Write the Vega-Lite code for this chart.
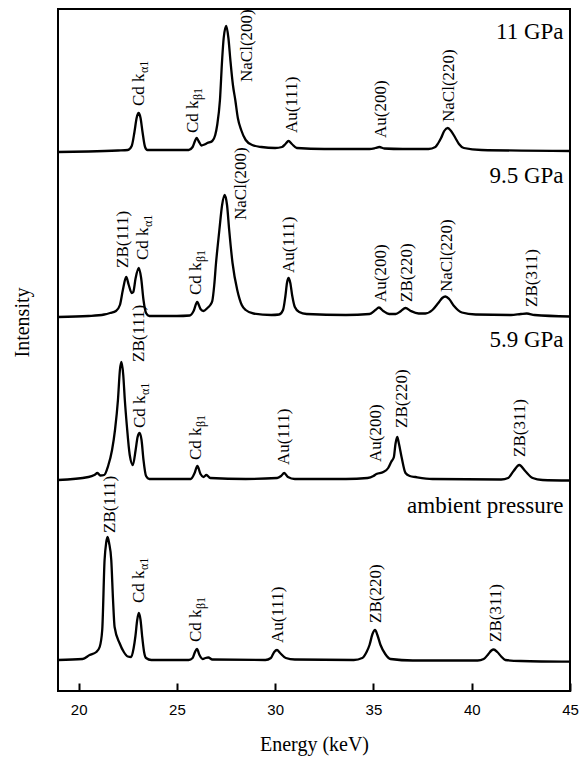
{
  "$schema": "https://vega.github.io/schema/vega-lite/v6.json",
  "width": 512,
  "height": 682,
  "autosize": "none",
  "padding": {"left": 58, "top": 9, "right": 10, "bottom": 66},
  "background": "white",
  "config": {
    "font": "Liberation Serif",
    "view": {"stroke": "black", "strokeWidth": 2},
    "axis": {
      "labelFont": "Liberation Sans",
      "labelFontSize": 15,
      "labelColor": "black",
      "titleFont": "Liberation Serif",
      "titleFontSize": 20,
      "titleFontWeight": "normal",
      "titleColor": "black"
    }
  },
  "datasets": {
    "spectra": [
      {"series": "11 GPa", "energy": 18.95, "intensity": 539},
      {"series": "11 GPa", "energy": 20.5, "intensity": 539.5},
      {"series": "11 GPa", "energy": 22.0, "intensity": 540.5},
      {"series": "11 GPa", "energy": 22.5, "intensity": 541},
      {"series": "11 GPa", "energy": 22.7, "intensity": 545},
      {"series": "11 GPa", "energy": 22.84, "intensity": 559},
      {"series": "11 GPa", "energy": 22.95, "intensity": 573},
      {"series": "11 GPa", "energy": 23.05, "intensity": 578},
      {"series": "11 GPa", "energy": 23.15, "intensity": 573},
      {"series": "11 GPa", "energy": 23.25, "intensity": 559},
      {"series": "11 GPa", "energy": 23.38, "intensity": 544},
      {"series": "11 GPa", "energy": 23.5, "intensity": 541},
      {"series": "11 GPa", "energy": 24.5, "intensity": 541},
      {"series": "11 GPa", "energy": 25.6, "intensity": 541},
      {"series": "11 GPa", "energy": 25.8, "intensity": 544},
      {"series": "11 GPa", "energy": 25.92, "intensity": 550},
      {"series": "11 GPa", "energy": 26.0, "intensity": 553},
      {"series": "11 GPa", "energy": 26.1, "intensity": 550},
      {"series": "11 GPa", "energy": 26.25, "intensity": 545.5},
      {"series": "11 GPa", "energy": 26.4, "intensity": 546.5},
      {"series": "11 GPa", "energy": 26.55, "intensity": 548},
      {"series": "11 GPa", "energy": 26.8, "intensity": 550},
      {"series": "11 GPa", "energy": 26.95, "intensity": 556},
      {"series": "11 GPa", "energy": 27.05, "intensity": 566},
      {"series": "11 GPa", "energy": 27.19, "intensity": 591},
      {"series": "11 GPa", "energy": 27.3, "intensity": 631},
      {"series": "11 GPa", "energy": 27.38, "intensity": 653},
      {"series": "11 GPa", "energy": 27.51, "intensity": 665},
      {"series": "11 GPa", "energy": 27.62, "intensity": 653},
      {"series": "11 GPa", "energy": 27.72, "intensity": 631},
      {"series": "11 GPa", "energy": 27.85, "intensity": 606},
      {"series": "11 GPa", "energy": 27.97, "intensity": 591},
      {"series": "11 GPa", "energy": 28.1, "intensity": 573},
      {"series": "11 GPa", "energy": 28.27, "intensity": 561},
      {"series": "11 GPa", "energy": 28.5, "intensity": 551},
      {"series": "11 GPa", "energy": 28.83, "intensity": 546},
      {"series": "11 GPa", "energy": 29.3, "intensity": 544},
      {"series": "11 GPa", "energy": 30.0, "intensity": 543},
      {"series": "11 GPa", "energy": 30.35, "intensity": 544},
      {"series": "11 GPa", "energy": 30.52, "intensity": 547},
      {"series": "11 GPa", "energy": 30.68, "intensity": 550},
      {"series": "11 GPa", "energy": 30.85, "intensity": 547},
      {"series": "11 GPa", "energy": 31.1, "intensity": 543},
      {"series": "11 GPa", "energy": 32.5, "intensity": 542},
      {"series": "11 GPa", "energy": 34.8, "intensity": 542},
      {"series": "11 GPa", "energy": 35.1, "intensity": 543},
      {"series": "11 GPa", "energy": 35.3, "intensity": 544},
      {"series": "11 GPa", "energy": 35.55, "intensity": 542.5},
      {"series": "11 GPa", "energy": 36.5, "intensity": 542},
      {"series": "11 GPa", "energy": 37.8, "intensity": 542},
      {"series": "11 GPa", "energy": 38.15, "intensity": 544},
      {"series": "11 GPa", "energy": 38.3, "intensity": 548},
      {"series": "11 GPa", "energy": 38.44, "intensity": 553},
      {"series": "11 GPa", "energy": 38.6, "intensity": 560},
      {"series": "11 GPa", "energy": 38.78, "intensity": 563},
      {"series": "11 GPa", "energy": 38.95, "intensity": 560},
      {"series": "11 GPa", "energy": 39.17, "intensity": 553},
      {"series": "11 GPa", "energy": 39.35, "intensity": 547},
      {"series": "11 GPa", "energy": 39.6, "intensity": 543},
      {"series": "11 GPa", "energy": 40.5, "intensity": 541},
      {"series": "11 GPa", "energy": 45, "intensity": 540},

      {"series": "9.5 GPa", "energy": 18.95, "intensity": 374},
      {"series": "9.5 GPa", "energy": 20.5, "intensity": 375},
      {"series": "9.5 GPa", "energy": 21.3, "intensity": 376.5},
      {"series": "9.5 GPa", "energy": 21.6, "intensity": 378},
      {"series": "9.5 GPa", "energy": 21.9, "intensity": 380},
      {"series": "9.5 GPa", "energy": 22.1, "intensity": 386},
      {"series": "9.5 GPa", "energy": 22.25, "intensity": 401},
      {"series": "9.5 GPa", "energy": 22.42, "intensity": 414},
      {"series": "9.5 GPa", "energy": 22.55, "intensity": 406},
      {"series": "9.5 GPa", "energy": 22.7, "intensity": 398},
      {"series": "9.5 GPa", "energy": 22.78, "intensity": 399},
      {"series": "9.5 GPa", "energy": 22.9, "intensity": 413},
      {"series": "9.5 GPa", "energy": 23.06, "intensity": 423},
      {"series": "9.5 GPa", "energy": 23.18, "intensity": 413},
      {"series": "9.5 GPa", "energy": 23.3, "intensity": 391},
      {"series": "9.5 GPa", "energy": 23.43, "intensity": 378},
      {"series": "9.5 GPa", "energy": 23.6, "intensity": 375},
      {"series": "9.5 GPa", "energy": 25.0, "intensity": 375},
      {"series": "9.5 GPa", "energy": 25.65, "intensity": 375.5},
      {"series": "9.5 GPa", "energy": 25.85, "intensity": 380},
      {"series": "9.5 GPa", "energy": 26.03, "intensity": 389},
      {"series": "9.5 GPa", "energy": 26.2, "intensity": 382},
      {"series": "9.5 GPa", "energy": 26.35, "intensity": 380},
      {"series": "9.5 GPa", "energy": 26.55, "intensity": 383},
      {"series": "9.5 GPa", "energy": 26.7, "intensity": 386},
      {"series": "9.5 GPa", "energy": 26.8, "intensity": 390},
      {"series": "9.5 GPa", "energy": 26.9, "intensity": 406},
      {"series": "9.5 GPa", "energy": 26.99, "intensity": 428},
      {"series": "9.5 GPa", "energy": 27.08, "intensity": 446},
      {"series": "9.5 GPa", "energy": 27.16, "intensity": 461},
      {"series": "9.5 GPa", "energy": 27.3, "intensity": 486},
      {"series": "9.5 GPa", "energy": 27.43, "intensity": 496},
      {"series": "9.5 GPa", "energy": 27.55, "intensity": 486},
      {"series": "9.5 GPa", "energy": 27.66, "intensity": 461},
      {"series": "9.5 GPa", "energy": 27.83, "intensity": 428},
      {"series": "9.5 GPa", "energy": 28.07, "intensity": 401},
      {"series": "9.5 GPa", "energy": 28.3, "intensity": 386},
      {"series": "9.5 GPa", "energy": 28.5, "intensity": 381},
      {"series": "9.5 GPa", "energy": 28.9, "intensity": 377.5},
      {"series": "9.5 GPa", "energy": 29.8, "intensity": 376},
      {"series": "9.5 GPa", "energy": 30.2, "intensity": 376.5},
      {"series": "9.5 GPa", "energy": 30.4, "intensity": 381},
      {"series": "9.5 GPa", "energy": 30.52, "intensity": 395},
      {"series": "9.5 GPa", "energy": 30.6, "intensity": 408},
      {"series": "9.5 GPa", "energy": 30.68, "intensity": 413},
      {"series": "9.5 GPa", "energy": 30.77, "intensity": 408},
      {"series": "9.5 GPa", "energy": 30.87, "intensity": 395},
      {"series": "9.5 GPa", "energy": 31.0, "intensity": 384},
      {"series": "9.5 GPa", "energy": 31.22, "intensity": 379},
      {"series": "9.5 GPa", "energy": 31.6, "intensity": 377},
      {"series": "9.5 GPa", "energy": 33.6, "intensity": 376},
      {"series": "9.5 GPa", "energy": 34.8, "intensity": 377},
      {"series": "9.5 GPa", "energy": 35.1, "intensity": 381},
      {"series": "9.5 GPa", "energy": 35.28, "intensity": 383.5},
      {"series": "9.5 GPa", "energy": 35.5, "intensity": 380},
      {"series": "9.5 GPa", "energy": 35.8, "intensity": 377},
      {"series": "9.5 GPa", "energy": 36.13, "intensity": 377},
      {"series": "9.5 GPa", "energy": 36.4, "intensity": 380},
      {"series": "9.5 GPa", "energy": 36.63, "intensity": 383},
      {"series": "9.5 GPa", "energy": 36.9, "intensity": 380},
      {"series": "9.5 GPa", "energy": 37.3, "intensity": 377.5},
      {"series": "9.5 GPa", "energy": 37.64, "intensity": 377.5},
      {"series": "9.5 GPa", "energy": 38.0, "intensity": 381},
      {"series": "9.5 GPa", "energy": 38.3, "intensity": 388},
      {"series": "9.5 GPa", "energy": 38.5, "intensity": 393},
      {"series": "9.5 GPa", "energy": 38.66, "intensity": 394.5},
      {"series": "9.5 GPa", "energy": 38.85, "intensity": 392},
      {"series": "9.5 GPa", "energy": 39.1, "intensity": 385},
      {"series": "9.5 GPa", "energy": 39.5, "intensity": 378.5},
      {"series": "9.5 GPa", "energy": 40.2, "intensity": 376.5},
      {"series": "9.5 GPa", "energy": 42.0, "intensity": 376},
      {"series": "9.5 GPa", "energy": 42.5, "intensity": 377},
      {"series": "9.5 GPa", "energy": 42.8, "intensity": 377.5},
      {"series": "9.5 GPa", "energy": 43.2, "intensity": 376},
      {"series": "9.5 GPa", "energy": 45, "intensity": 374.5},

      {"series": "5.9 GPa", "energy": 18.95, "intensity": 211},
      {"series": "5.9 GPa", "energy": 20.5, "intensity": 214},
      {"series": "5.9 GPa", "energy": 20.8, "intensity": 216},
      {"series": "5.9 GPa", "energy": 20.96, "intensity": 218},
      {"series": "5.9 GPa", "energy": 21.1, "intensity": 215.5},
      {"series": "5.9 GPa", "energy": 21.3, "intensity": 216},
      {"series": "5.9 GPa", "energy": 21.5, "intensity": 225},
      {"series": "5.9 GPa", "energy": 21.7, "intensity": 241},
      {"series": "5.9 GPa", "energy": 21.85, "intensity": 261},
      {"series": "5.9 GPa", "energy": 22.0, "intensity": 291},
      {"series": "5.9 GPa", "energy": 22.1, "intensity": 321},
      {"series": "5.9 GPa", "energy": 22.18, "intensity": 329},
      {"series": "5.9 GPa", "energy": 22.27, "intensity": 316},
      {"series": "5.9 GPa", "energy": 22.35, "intensity": 291},
      {"series": "5.9 GPa", "energy": 22.45, "intensity": 266},
      {"series": "5.9 GPa", "energy": 22.6, "intensity": 236},
      {"series": "5.9 GPa", "energy": 22.76, "intensity": 226},
      {"series": "5.9 GPa", "energy": 22.9, "intensity": 241},
      {"series": "5.9 GPa", "energy": 23.0, "intensity": 254},
      {"series": "5.9 GPa", "energy": 23.1, "intensity": 258},
      {"series": "5.9 GPa", "energy": 23.2, "intensity": 251},
      {"series": "5.9 GPa", "energy": 23.3, "intensity": 231},
      {"series": "5.9 GPa", "energy": 23.43, "intensity": 215},
      {"series": "5.9 GPa", "energy": 23.6, "intensity": 212},
      {"series": "5.9 GPa", "energy": 25.7, "intensity": 212},
      {"series": "5.9 GPa", "energy": 25.9, "intensity": 218},
      {"series": "5.9 GPa", "energy": 26.04, "intensity": 225},
      {"series": "5.9 GPa", "energy": 26.2, "intensity": 217},
      {"series": "5.9 GPa", "energy": 26.35, "intensity": 214},
      {"series": "5.9 GPa", "energy": 26.5, "intensity": 216},
      {"series": "5.9 GPa", "energy": 26.7, "intensity": 213},
      {"series": "5.9 GPa", "energy": 28.5, "intensity": 212},
      {"series": "5.9 GPa", "energy": 30.1, "intensity": 213},
      {"series": "5.9 GPa", "energy": 30.3, "intensity": 215},
      {"series": "5.9 GPa", "energy": 30.46, "intensity": 218},
      {"series": "5.9 GPa", "energy": 30.65, "intensity": 214},
      {"series": "5.9 GPa", "energy": 31.0, "intensity": 212},
      {"series": "5.9 GPa", "energy": 33.6, "intensity": 212},
      {"series": "5.9 GPa", "energy": 34.7, "intensity": 213},
      {"series": "5.9 GPa", "energy": 35.0, "intensity": 215},
      {"series": "5.9 GPa", "energy": 35.15, "intensity": 217},
      {"series": "5.9 GPa", "energy": 35.5, "intensity": 219},
      {"series": "5.9 GPa", "energy": 35.75, "intensity": 223},
      {"series": "5.9 GPa", "energy": 35.9, "intensity": 229},
      {"series": "5.9 GPa", "energy": 36.04, "intensity": 234},
      {"series": "5.9 GPa", "energy": 36.12, "intensity": 247},
      {"series": "5.9 GPa", "energy": 36.21, "intensity": 254},
      {"series": "5.9 GPa", "energy": 36.3, "intensity": 247},
      {"series": "5.9 GPa", "energy": 36.43, "intensity": 234},
      {"series": "5.9 GPa", "energy": 36.63, "intensity": 218},
      {"series": "5.9 GPa", "energy": 36.85, "intensity": 215},
      {"series": "5.9 GPa", "energy": 37.14, "intensity": 214},
      {"series": "5.9 GPa", "energy": 38.0, "intensity": 212},
      {"series": "5.9 GPa", "energy": 41.5, "intensity": 211.5},
      {"series": "5.9 GPa", "energy": 41.85, "intensity": 213},
      {"series": "5.9 GPa", "energy": 42.13, "intensity": 220},
      {"series": "5.9 GPa", "energy": 42.42, "intensity": 226},
      {"series": "5.9 GPa", "energy": 42.72, "intensity": 220},
      {"series": "5.9 GPa", "energy": 43.1, "intensity": 213},
      {"series": "5.9 GPa", "energy": 43.6, "intensity": 211},
      {"series": "5.9 GPa", "energy": 45, "intensity": 210.5},

      {"series": "ambient", "energy": 18.95, "intensity": 31},
      {"series": "ambient", "energy": 20.2, "intensity": 32},
      {"series": "ambient", "energy": 20.56, "intensity": 36},
      {"series": "ambient", "energy": 20.9, "intensity": 39},
      {"series": "ambient", "energy": 21.07, "intensity": 44},
      {"series": "ambient", "energy": 21.2, "intensity": 61},
      {"series": "ambient", "energy": 21.32, "intensity": 131},
      {"series": "ambient", "energy": 21.4, "intensity": 148},
      {"series": "ambient", "energy": 21.47, "intensity": 154},
      {"series": "ambient", "energy": 21.55, "intensity": 148},
      {"series": "ambient", "energy": 21.66, "intensity": 131},
      {"series": "ambient", "energy": 21.75, "intensity": 91},
      {"series": "ambient", "energy": 21.83, "intensity": 64},
      {"series": "ambient", "energy": 22.08, "intensity": 48},
      {"series": "ambient", "energy": 22.3, "intensity": 39},
      {"series": "ambient", "energy": 22.5, "intensity": 34.5},
      {"series": "ambient", "energy": 22.67, "intensity": 34},
      {"series": "ambient", "energy": 22.8, "intensity": 43},
      {"series": "ambient", "energy": 22.89, "intensity": 55},
      {"series": "ambient", "energy": 22.98, "intensity": 71},
      {"series": "ambient", "energy": 23.06, "intensity": 78},
      {"series": "ambient", "energy": 23.15, "intensity": 71},
      {"series": "ambient", "energy": 23.23, "intensity": 55},
      {"series": "ambient", "energy": 23.33, "intensity": 39},
      {"series": "ambient", "energy": 23.43, "intensity": 33},
      {"series": "ambient", "energy": 23.7, "intensity": 31},
      {"series": "ambient", "energy": 25.6, "intensity": 31},
      {"series": "ambient", "energy": 25.8, "intensity": 33},
      {"series": "ambient", "energy": 25.92, "intensity": 39},
      {"series": "ambient", "energy": 26.02, "intensity": 42},
      {"series": "ambient", "energy": 26.15, "intensity": 36},
      {"series": "ambient", "energy": 26.31, "intensity": 32},
      {"series": "ambient", "energy": 26.45, "intensity": 33},
      {"series": "ambient", "energy": 26.6, "intensity": 33.5},
      {"series": "ambient", "energy": 26.8, "intensity": 31.5},
      {"series": "ambient", "energy": 29.5, "intensity": 31},
      {"series": "ambient", "energy": 29.78, "intensity": 33},
      {"series": "ambient", "energy": 29.95, "intensity": 39},
      {"series": "ambient", "energy": 30.09, "intensity": 41},
      {"series": "ambient", "energy": 30.25, "intensity": 38},
      {"series": "ambient", "energy": 30.54, "intensity": 33},
      {"series": "ambient", "energy": 31.0, "intensity": 31.5},
      {"series": "ambient", "energy": 34.0, "intensity": 31},
      {"series": "ambient", "energy": 34.43, "intensity": 33},
      {"series": "ambient", "energy": 34.65, "intensity": 39},
      {"series": "ambient", "energy": 34.8, "intensity": 46},
      {"series": "ambient", "energy": 34.95, "intensity": 57},
      {"series": "ambient", "energy": 35.08, "intensity": 61},
      {"series": "ambient", "energy": 35.2, "intensity": 56},
      {"series": "ambient", "energy": 35.36, "intensity": 46},
      {"series": "ambient", "energy": 35.6, "intensity": 37},
      {"series": "ambient", "energy": 35.87, "intensity": 32},
      {"series": "ambient", "energy": 37.0, "intensity": 30.5},
      {"series": "ambient", "energy": 40.3, "intensity": 30.5},
      {"series": "ambient", "energy": 40.61, "intensity": 32},
      {"series": "ambient", "energy": 40.85, "intensity": 37},
      {"series": "ambient", "energy": 41.0, "intensity": 40.5},
      {"series": "ambient", "energy": 41.12, "intensity": 41.5},
      {"series": "ambient", "energy": 41.3, "intensity": 39},
      {"series": "ambient", "energy": 41.5, "intensity": 34.5},
      {"series": "ambient", "energy": 41.71, "intensity": 31},
      {"series": "ambient", "energy": 42.5, "intensity": 30},
      {"series": "ambient", "energy": 45, "intensity": 29.3}
    ],
    "peaks": [
      {"energy": 23.05, "intensity": 585, "label": "Cd k", "sub": "α1"},
      {"energy": 25.84, "intensity": 558, "label": "Cd k", "sub": "β1"},
      {"energy": 28.58, "intensity": 609, "label": "NaCl(200)", "sub": ""},
      {"energy": 30.86, "intensity": 558, "label": "Au(111)", "sub": ""},
      {"energy": 35.38, "intensity": 553, "label": "Au(200)", "sub": ""},
      {"energy": 38.83, "intensity": 569, "label": "NaCl(220)", "sub": ""},
      {"energy": 22.28, "intensity": 423, "label": "ZB(111)", "sub": ""},
      {"energy": 23.25, "intensity": 431, "label": "Cd k", "sub": "α1"},
      {"energy": 25.99, "intensity": 396, "label": "Cd k", "sub": "β1"},
      {"energy": 28.27, "intensity": 471, "label": "NaCl(200)", "sub": ""},
      {"energy": 30.71, "intensity": 418, "label": "Au(111)", "sub": ""},
      {"energy": 35.38, "intensity": 389, "label": "Au(200)", "sub": ""},
      {"energy": 36.7, "intensity": 389, "label": "ZB(220)", "sub": ""},
      {"energy": 38.73, "intensity": 399, "label": "NaCl(220)", "sub": ""},
      {"energy": 43.05, "intensity": 384, "label": "ZB(311)", "sub": ""},
      {"energy": 23.05, "intensity": 329, "label": "ZB(111)", "sub": ""},
      {"energy": 23.1, "intensity": 263, "label": "Cd k", "sub": "α1"},
      {"energy": 25.99, "intensity": 231, "label": "Cd k", "sub": "β1"},
      {"energy": 30.46, "intensity": 226, "label": "Au(111)", "sub": ""},
      {"energy": 35.13, "intensity": 229, "label": "Au(200)", "sub": ""},
      {"energy": 36.45, "intensity": 263, "label": "ZB(220)", "sub": ""},
      {"energy": 42.47, "intensity": 234, "label": "ZB(311)", "sub": ""},
      {"energy": 21.62, "intensity": 158, "label": "ZB(111)", "sub": ""},
      {"energy": 23.05, "intensity": 88, "label": "Cd k", "sub": "α1"},
      {"energy": 25.99, "intensity": 49, "label": "Cd k", "sub": "β1"},
      {"energy": 30.15, "intensity": 48, "label": "Au(111)", "sub": ""},
      {"energy": 35.13, "intensity": 68, "label": "ZB(220)", "sub": ""},
      {"energy": 41.22, "intensity": 49, "label": "ZB(311)", "sub": ""}
    ],
    "conditions": [
      {"energy": 44.67, "intensity": 652, "text": "11 GPa"},
      {"energy": 44.67, "intensity": 508, "text": "9.5 GPa"},
      {"energy": 44.67, "intensity": 344, "text": "5.9 GPa"},
      {"energy": 44.67, "intensity": 178, "text": "ambient pressure"}
    ]
  },
  "encoding": {
    "x": {
      "field": "energy",
      "type": "quantitative",
      "scale": {"domain": [18.95, 45], "nice": false, "zero": false},
      "axis": {
        "title": "Energy (keV)",
        "values": [20, 25, 30, 35, 40, 45],
        "domain": false,
        "grid": false,
        "tickSize": -8,
        "tickWidth": 2,
        "tickColor": "black",
        "labelPadding": 19,
        "labelFlush": false,
        "labelOverlap": false,
        "labelFont": "Liberation Sans",
        "titleFont": "Liberation Serif",
        "titleY": 59,
        "titleBaseline": "alphabetic"
      }
    },
    "y": {
      "field": "intensity",
      "type": "quantitative",
      "scale": {"domain": [0, 682], "nice": false, "zero": false},
      "axis": {
        "title": "Intensity",
        "domain": false,
        "ticks": false,
        "labels": false,
        "grid": false,
        "titleFont": "Liberation Serif",
        "titleAngle": 270,
        "titleX": -30,
        "titleY": 313,
        "titleAlign": "center",
        "titleBaseline": "alphabetic"
      }
    }
  },
  "layer": [
    {
      "data": {"name": "spectra"},
      "mark": {"type": "line", "color": "black", "strokeWidth": 2.3, "interpolate": "monotone"},
      "encoding": {"detail": {"field": "series"}}
    },
    {
      "data": {"name": "peaks"},
      "mark": {"type": "text", "angle": 270, "align": "left", "baseline": "middle", "font": "Liberation Serif", "fontSize": 17, "color": "black"},
      "encoding": {"text": {"field": "label"}}
    },
    {
      "data": {"name": "peaks"},
      "transform": [{"filter": "datum.sub != ''"}],
      "mark": {"type": "text", "angle": 270, "align": "left", "baseline": "middle", "font": "Liberation Serif", "fontSize": 12, "color": "black", "dx": 33, "dy": 5},
      "encoding": {"text": {"field": "sub"}}
    },
    {
      "data": {"name": "conditions"},
      "mark": {"type": "text", "align": "right", "baseline": "alphabetic", "font": "Liberation Serif", "fontSize": 23, "color": "black"},
      "encoding": {"text": {"field": "text"}}
    }
  ]
}
